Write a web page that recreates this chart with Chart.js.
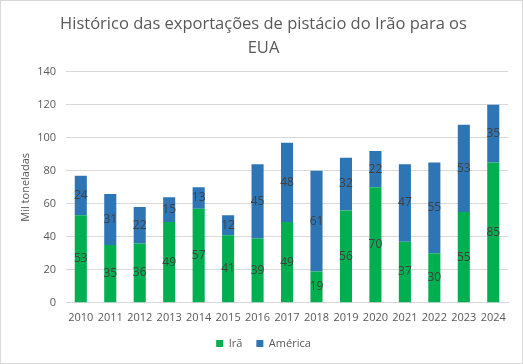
<!DOCTYPE html>
<html>
<head>
<meta charset="utf-8">
<script src="https://cdn.jsdelivr.net/npm/chart.js@4"></script>
<style>
  body { margin: 0; background: #fff; }
  #wrap { width: 523px; height: 364px; box-sizing: border-box; border: 1px solid #d9d9d9; }
  canvas { display: block; }
</style>
</head>
<body>
<div id="wrap"><canvas id="chart" width="521" height="362"></canvas></div>
<script>
const years = ['2010', '2011', '2012', '2013', '2014', '2015', '2016', '2017',
               '2018', '2019', '2020', '2021', '2022', '2023', '2024'];
const irValues = [53, 35, 36, 49, 57, 41, 39, 49, 19, 56, 70, 37, 30, 55, 85];
const usValues = [24, 31, 22, 15, 13, 12, 45, 48, 61, 32, 22, 47, 55, 53, 35];
const yTicks = [0, 20, 40, 60, 80, 100, 120, 140];

const FONT = "'Open Sans', 'Noto Sans', sans-serif";

// labels centred in each bar segment
const barLabels = {
    id: 'barLabels',
    afterDatasetsDraw(chart) {
        const ctx = chart.ctx;
        ctx.save();
        ctx.font = '12px ' + FONT;
        ctx.fillStyle = '#404040';
        ctx.textAlign = 'center';
        ctx.textBaseline = 'middle';
        chart.data.datasets.forEach((ds, i) => {
            chart.getDatasetMeta(i).data.forEach((bar, j) => {
                const mid = (bar.y + bar.base) / 2;
                ctx.fillText(ds.data[j], bar.x, mid);
            });
        });
        ctx.restore();
    }
};

function createChart(id, config) {
    try {
        return new Chart(id, config);
    } catch (e) {
        console.log(e);
    }
}

createChart('chart', {
    type: 'bar',
    data: {
        labels: years,
        datasets: [
            { label: 'Irã', data: irValues, backgroundColor: '#00b050' },
            { label: 'América', data: usValues, backgroundColor: '#2e75b6' }
        ]
    },
    options: {
        responsive: false,
        animation: false,
        devicePixelRatio: 1,
        layout: { padding: { left: 18, right: 14, top: 4, bottom: 4 } },
        datasets: { bar: { barPercentage: 0.41, categoryPercentage: 1 } },
        plugins: {
            title: {
                display: true,
                text: ['Histórico das exportações de pistácio do Irão para os', 'EUA'],
                color: '#595959',
                font: { family: FONT, size: 16.5, weight: 'normal', lineHeight: 1.45 },
                padding: { top: 7, bottom: 12 }
            },
            legend: {
                position: 'bottom',
                labels: {
                    color: '#595959',
                    font: { family: FONT, size: 11 },
                    boxWidth: 7, boxHeight: 7, padding: 14
                }
            },
            tooltip: { enabled: false }
        },
        scales: {
            x: {
                stacked: true,
                grid: { display: false },
                border: { color: '#d9d9d9' },
                ticks: { color: '#595959', font: { family: FONT, size: 11 }, maxRotation: 0, autoSkip: false, padding: 0 }
            },
            y: {
                stacked: true,
                min: 0, max: 140,
                afterBuildTicks(axis) { axis.ticks = yTicks.map(v => ({ value: v })); },
                grid: { color: '#d9d9d9', drawTicks: false },
                border: { display: false },
                ticks: { color: '#595959', font: { family: FONT, size: 11 }, padding: 10 },
                title: {
                    display: true, text: 'Mil toneladas', color: '#595959',
                    font: { family: FONT, size: 11 },
                    padding: { top: 0, bottom: -5 }
                }
            }
        }
    },
    plugins: [barLabels]
});
</script>
</body>
</html>
